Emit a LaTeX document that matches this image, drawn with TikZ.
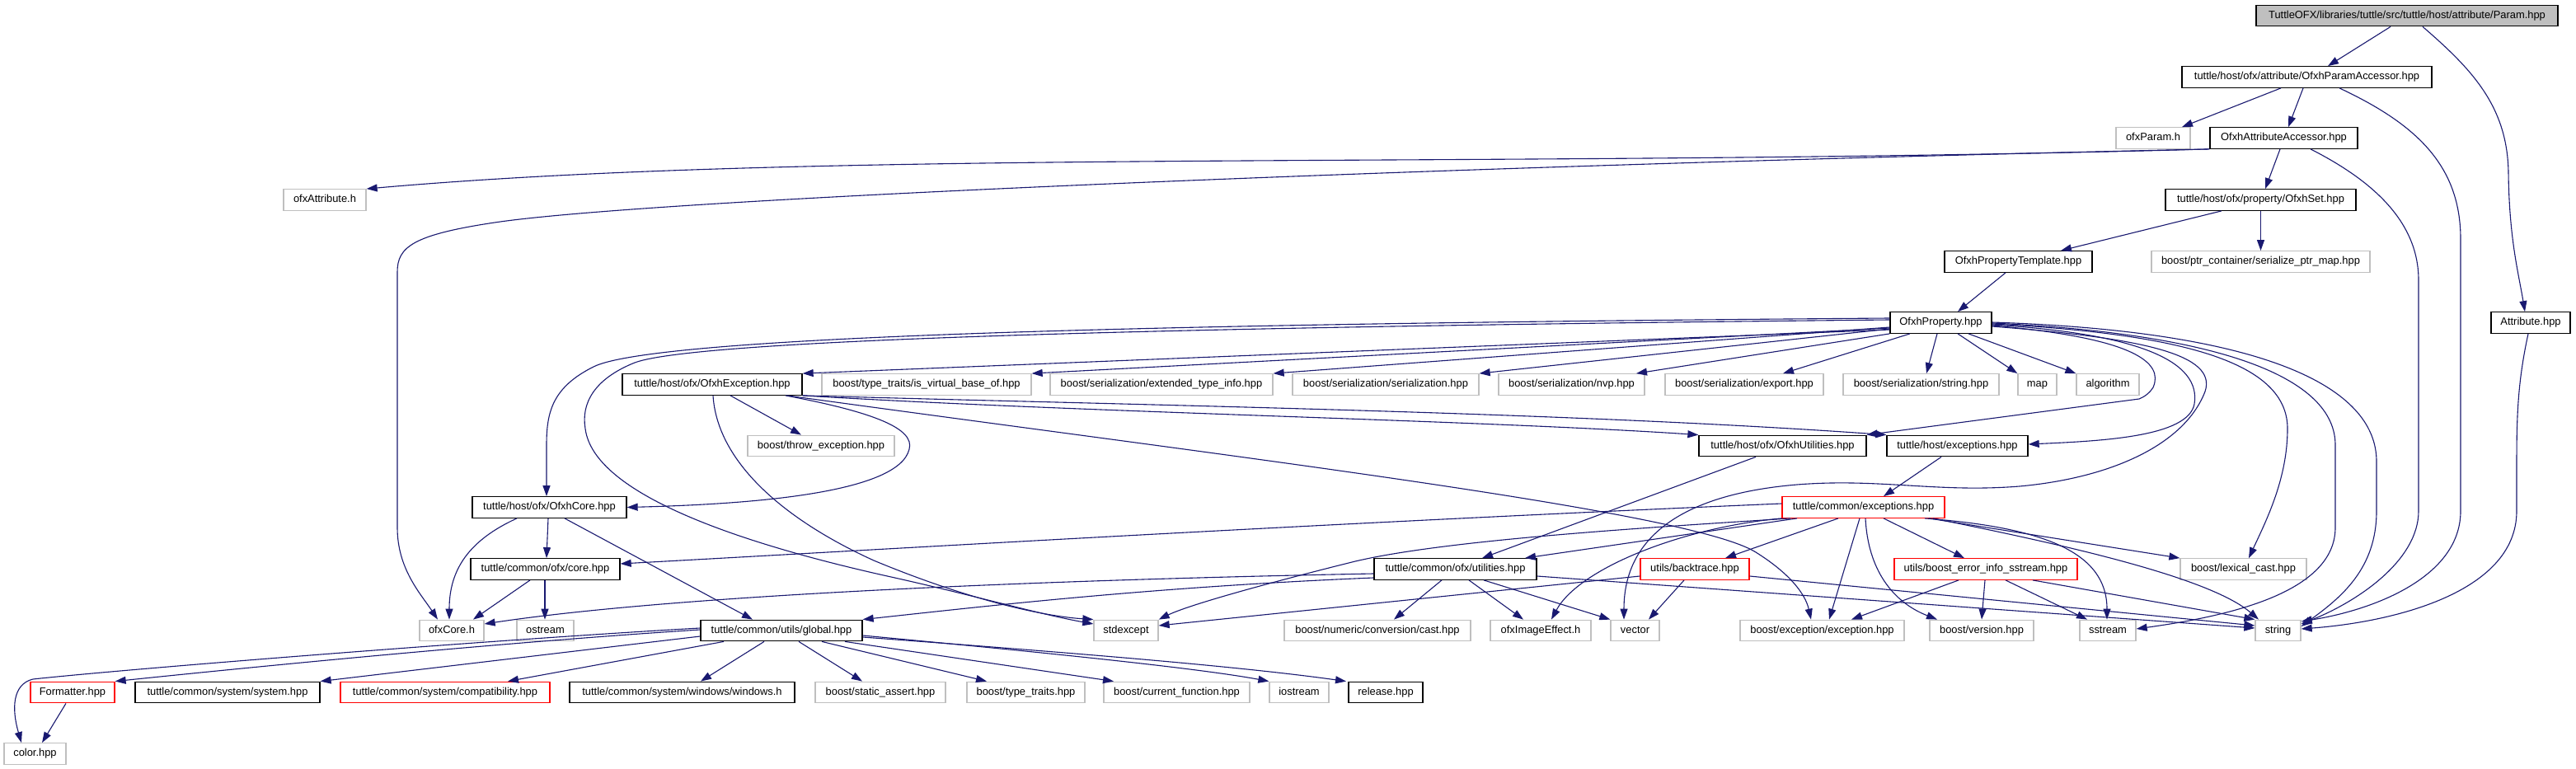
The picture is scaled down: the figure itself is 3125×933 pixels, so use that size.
\documentclass[tikz,border=0pt]{standalone}
\usepackage{fontspec}
\setmainfont{Liberation Sans}
\usetikzlibrary{arrows.meta}
\definecolor{edgec}{HTML}{191970}
\definecolor{graybd}{HTML}{BFBFBF}
\begin{document}
\begin{tikzpicture}[x=1pt,y=-1pt,
  nbase/.style={rectangle, inner sep=0pt, minimum height=25.5pt, line width=1.3pt, fill=white,
    font=\fontsize{12.9pt}{15pt}\selectfont, text height=9.3pt, text depth=2.7pt},
  nb/.style={nbase, draw=black},
  ng/.style={nbase, draw=graybd},
  nr/.style={nbase, draw=red},
  nroot/.style={nbase, draw=black, fill=graybd},
  dep/.style={draw=edgec, line width=1.1pt, -{Triangle[length=13pt,width=9pt]}}]
\useasboundingbox (0,0) rectangle (3125,933);
\fill[white] (0,0) rectangle (3125,933);

% nodes
\node[nroot, minimum width=366pt] (param) at (2920,19) {TuttleOFX/libraries/tuttle/src/tuttle/host/attribute/Param.hpp};
\node[nb, minimum width=303pt] (paramacc) at (2798.5,93.5) {tuttle/host/ofx/attribute/OfxhParamAccessor.hpp};
\node[ng, minimum width=90pt] (ofxparam) at (2612,167.5) {ofxParam.h};
\node[nb, minimum width=179pt] (attracc) at (2770.5,167.5) {OfxhAttributeAccessor.hpp};
\node[ng, minimum width=100pt] (ofxattr) at (394,242.5) {ofxAttribute.h};
\node[nb, minimum width=231pt] (ofxhset) at (2742.5,242.5) {tuttle/host/ofx/property/OfxhSet.hpp};
\node[nb, minimum width=179pt] (proptempl) at (2448.5,317.5) {OfxhPropertyTemplate.hpp};
\node[ng, minimum width=265pt] (ptrmap) at (2742.5,317.5) {boost/ptr\_container/serialize\_ptr\_map.hpp};
\node[nb, minimum width=123pt] (ofxhprop) at (2354.5,391.5) {OfxhProperty.hpp};
\node[nb, minimum width=96pt] (attrib) at (3070,391.5) {Attribute.hpp};

\node[nb, minimum width=218pt] (ofxhexc) at (864,466.5) {tuttle/host/ofx/OfxhException.hpp};
\node[ng, minimum width=254pt] (isvirt) at (1124,466.5) {boost/type\_traits/is\_virtual\_base\_of.hpp};
\node[ng, minimum width=270pt] (exttype) at (1409,466.5) {boost/serialization/extended\_type\_info.hpp};
\node[ng, minimum width=226pt] (serial) at (1681,466.5) {boost/serialization/serialization.hpp};
\node[ng, minimum width=177pt] (nvp) at (1906.5,466.5) {boost/serialization/nvp.hpp};
\node[ng, minimum width=192pt] (exportn) at (2116,466.5) {boost/serialization/export.hpp};
\node[ng, minimum width=189pt] (serstr) at (2330.5,466.5) {boost/serialization/string.hpp};
\node[ng, minimum width=47pt] (mapn) at (2471.5,466.5) {map};
\node[ng, minimum width=76pt] (algo) at (2557,466.5) {algorithm};

\node[ng, minimum width=178pt] (throwexc) at (996,541) {boost/throw\_exception.hpp};
\node[nb, minimum width=203pt] (ofxhutil) at (2162.5,541) {tuttle/host/ofx/OfxhUtilities.hpp};
\node[nb, minimum width=171pt] (hostexc) at (2374.5,541) {tuttle/host/exceptions.hpp};

\node[nb, minimum width=187pt] (ofxhcore) at (666.5,615.5) {tuttle/host/ofx/OfxhCore.hpp};
\node[nr, minimum width=197pt] (comexc) at (2260.5,615.5) {tuttle/common/exceptions.hpp};

\node[nb, minimum width=181pt] (corehpp) at (661.5,690.5) {tuttle/common/ofx/core.hpp};
\node[nb, minimum width=197pt] (utilhpp) at (1765.5,690.5) {tuttle/common/ofx/utilities.hpp};
\node[nr, minimum width=132pt] (backtr) at (2056,690.5) {utils/backtrace.hpp};
\node[nr, minimum width=222pt] (berr) at (2409,690.5) {utils/boost\_error\_info\_sstream.hpp};
\node[ng, minimum width=153pt] (lexcast) at (2721.5,690.5) {boost/lexical\_cast.hpp};

\node[ng, minimum width=78pt] (ofxcoreh) at (548,765) {ofxCore.h};
\node[ng, minimum width=69pt] (ostreamn) at (661.5,765) {ostream};
\node[nb, minimum width=196pt] (globaln) at (948,765) {tuttle/common/utils/global.hpp};
\node[ng, minimum width=78pt] (stdexc) at (1366,765) {stdexcept};
\node[ng, minimum width=226pt] (castn) at (1671,765) {boost/numeric/conversion/cast.hpp};
\node[ng, minimum width=122pt] (imgeff) at (1869,765) {ofxImageEffect.h};
\node[ng, minimum width=59pt] (vectorn) at (1983.5,765) {vector};
\node[ng, minimum width=199pt] (bexc) at (2210.5,765) {boost/exception/exception.hpp};
\node[ng, minimum width=126pt] (versionn) at (2404,765) {boost/version.hpp};
\node[ng, minimum width=68pt] (sstreamn) at (2557,765) {sstream};
\node[ng, minimum width=55pt] (stringn) at (2763.5,765) {string};

\node[nr, minimum width=102pt] (formatter) at (88,840) {Formatter.hpp};
\node[nb, minimum width=224pt] (systemn) at (276,840) {tuttle/common/system/system.hpp};
\node[nr, minimum width=254pt] (compat) at (540,840) {tuttle/common/system/compatibility.hpp};
\node[nb, minimum width=273pt] (windowsn) at (827.5,840) {tuttle/common/system/windows/windows.h};
\node[ng, minimum width=158pt] (sassert) at (1068,840) {boost/static\_assert.hpp};
\node[ng, minimum width=143pt] (ttraits) at (1244.5,840) {boost/type\_traits.hpp};
\node[ng, minimum width=177pt] (curfunc) at (1427.5,840) {boost/current\_function.hpp};
\node[ng, minimum width=72pt] (iostreamn) at (1576,840) {iostream};
\node[nb, minimum width=90pt] (release) at (1681,840) {release.hpp};

\node[ng, minimum width=75pt] (colorn) at (42.5,914.5) {color.hpp};

% edges: Param
\draw[dep] (param.south -| 2900,0) -- (paramacc.north -| 2824,0);
\draw[dep] (param.south -| 2939,0) .. controls (3000,85) and (3042,130) .. (3043,210) .. controls (3044,290) and (3055,330) .. (attrib.north -| 3063,0);
% ParamAccessor
\draw[dep] (paramacc.south -| 2767,0) -- (ofxparam.north -| 2647,0);
\draw[dep] (paramacc.south -| 2794,0) -- (attracc.north -| 2776,0);
\draw[dep] (paramacc.south -| 2838,0) .. controls (2930,150) and (2985,200) .. (2985,290) -- (2985,620) .. controls (2985,700) and (2880,740) .. (stringn.east |- 0,754);
% AttributeAccessor
\draw[dep] (attracc.south west) .. controls (1800,205) and (1000,180) .. (ofxattr.north east);
\draw[dep] (attracc.south west) .. controls (1800,200) and (800,240) .. (600,270) .. controls (500,285) and (482,300) .. (482,330) -- (482,640) .. controls (482,690) and (510,720) .. (ofxcoreh.north -| 531,0);
\draw[dep] (attracc.south -| 2766,0) -- (ofxhset.north -| 2748,0);
\draw[dep] (attracc.south -| 2803,0) .. controls (2880,220) and (2934,270) .. (2934,340) -- (2934,620) .. controls (2934,680) and (2860,730) .. (stringn.east |- 0,757);
% OfxhSet
\draw[dep] (ofxhset.south -| 2695,0) -- (proptempl.north -| 2500,0);
\draw[dep] (ofxhset.south) -- (ptrmap.north);
\draw[dep] (proptempl.south -| 2433,0) -- (ofxhprop.north -| 2375,0);
% OfxhProperty
\draw[dep] (ofxhprop.west |- 0,400) -- (ofxhexc.north east);
\draw[dep] (ofxhprop.west |- 0,398) -- (isvirt.north east);
\draw[dep] (ofxhprop.west |- 0,397) -- (exttype.north east);
\draw[dep] (ofxhprop.west |- 0,399) -- (serial.north east);
\draw[dep] (ofxhprop.south west) -- (nvp.north -| 1985,0);
\draw[dep] (ofxhprop.south -| 2317,0) -- (exportn.north -| 2163,0);
\draw[dep] (ofxhprop.south -| 2350,0) -- (serstr.north -| 2337,0);
\draw[dep] (ofxhprop.south -| 2375,0) -- (mapn.north west);
\draw[dep] (ofxhprop.south -| 2388,0) -- (algo.north west);
\draw[dep] (ofxhprop.east |- 0,395) .. controls (2590,410) and (2625,440) .. (2612,470) .. controls (2607,478) and (2600,482) .. (2595,484) -- (ofxhutil.north east);
\draw[dep] (ofxhprop.east |- 0,394) .. controls (2600,405) and (2670,440) .. (2662,490) .. controls (2655,530) and (2550,535) .. (hostexc.east |- 0,539);
\draw[dep] (ofxhprop.west |- 0,386) .. controls (1500,392) and (800,405) .. (720,445) .. controls (670,470) and (663,500) .. (663,540) -- (ofxhcore.north -| 663,0);
\draw[dep] (ofxhprop.west |- 0,388) .. controls (1500,396) and (850,410) .. (770,440) .. controls (720,460) and (705,490) .. (710,520) .. controls (720,600) and (900,660) .. (1081,700) .. controls (1180,722) and (1260,745) .. (stdexc.west |- 0,757);
\draw[dep] (ofxhprop.east |- 0,396) .. controls (2600,410) and (2690,430) .. (2675,475) .. controls (2650,540) and (2560,580) .. (2450,590) .. controls (2350,598) and (2280,580) .. (2180,588) .. controls (2060,598) and (1970,640) .. (vectorn.north -| 1970,0);
\draw[dep] (ofxhprop.east |- 0,393) .. controls (2650,405) and (2775,440) .. (2775,520) .. controls (2775,580) and (2750,630) .. (lexcast.north -| 2728,0);
\draw[dep] (ofxhprop.east |- 0,392) .. controls (2700,405) and (2833,460) .. (2833,540) -- (2833,640) .. controls (2833,720) and (2700,748) .. (sstreamn.east |- 0,763);
\draw[dep] (ofxhprop.east |- 0,391) .. controls (2750,402) and (2883,470) .. (2883,560) -- (2883,620) .. controls (2883,690) and (2840,725) .. (stringn.east |- 0,760);
% OfxhException
\draw[dep] (ofxhexc.south -| 886,0) -- (throwexc.north -| 972,0);
\draw[dep] (ofxhexc.south -| 953,0) .. controls (1060,500) and (1110,520) .. (1103,545) .. controls (1090,600) and (900,612) .. (ofxhcore.east);
\draw[dep] (ofxhexc.south -| 865,0) .. controls (870,560) and (950,630) .. (1060,680) .. controls (1180,730) and (1270,748) .. (stdexc.north west);
\draw[dep] (ofxhexc.south east) .. controls (1300,500) and (1800,510) .. (ofxhutil.north west);
\draw[dep] (ofxhexc.south east) .. controls (1400,492) and (1900,500) .. (hostexc.north west);
\draw[dep] (ofxhexc.south -| 955,0) .. controls (1500,555) and (2050,620) .. (2130,670) .. controls (2170,695) and (2190,720) .. (bexc.north -| 2197,0);
% OfxhCore
\draw[dep] (ofxhcore.south -| 627,0) .. controls (570,655) and (545,690) .. (ofxcoreh.north -| 545,0);
\draw[dep] (ofxhcore.south -| 665,0) -- (corehpp.north -| 663,0);
\draw[dep] (ofxhcore.south -| 685,0) -- (globaln.north -| 913,0);
% core.hpp
\draw[dep] (corehpp.south -| 643,0) -- (ofxcoreh.north -| 574,0);
\draw[dep] (corehpp.south -| 661,0) -- (ostreamn.north -| 661,0);
% OfxhUtilities, host exceptions
\draw[dep] (ofxhutil.south -| 2130,0) -- (utilhpp.north -| 1798,0);
\draw[dep] (hostexc.south -| 2355,0) -- (comexc.north -| 2285,0);
% utilities.hpp
\draw[dep] (utilhpp.west |- 0,696) .. controls (1200,705) and (800,725) .. (ofxcoreh.east |- 0,757);
\draw[dep] (utilhpp.west |- 0,701) .. controls (1400,712) and (1200,735) .. (globaln.north east);
\draw[dep] (utilhpp.south -| 1749,0) -- (castn.north -| 1691,0);
\draw[dep] (utilhpp.south -| 1782,0) -- (imgeff.north -| 1848,0);
\draw[dep] (utilhpp.south -| 1800,0) -- (vectorn.north west);
\draw[dep] (utilhpp.east |- 0,699) -- (stringn.west |- 0,762);
% backtrace
\draw[dep] (backtr.west |- 0,699) -- (stdexc.east |- 0,759);
\draw[dep] (backtr.south -| 2043,0) -- (vectorn.north -| 2000,0);
\draw[dep] (backtr.east |- 0,699) -- (stringn.west |- 0,759);
% boost_error_info_sstream
\draw[dep] (berr.south -| 2376,0) -- (bexc.north -| 2246,0);
\draw[dep] (berr.south -| 2408,0) -- (versionn.north -| 2404,0);
\draw[dep] (berr.south -| 2433,0) -- (sstreamn.north -| 2532,0);
\draw[dep] (berr.south -| 2466,0) -- (stringn.north west);
% common exceptions
\draw[dep] (comexc.west |- 0,611) .. controls (1600,635) and (1100,665) .. (corehpp.east |- 0,684);
\draw[dep] (comexc.south -| 2180,0) -- (utilhpp.north -| 1850,0);
\draw[dep] (comexc.south -| 2172,0) .. controls (2000,640) and (1750,655) .. (1640,682) .. controls (1520,712) and (1440,735) .. (stdexc.north east);
\draw[dep] (comexc.south west) .. controls (2040,640) and (1915,690) .. (imgeff.north -| 1882,0);
\draw[dep] (comexc.south -| 2230,0) -- (backtr.north -| 2093,0);
\draw[dep] (comexc.south -| 2256,0) -- (bexc.north -| 2219,0);
\draw[dep] (comexc.south -| 2263,0) .. controls (2266,690) and (2295,730) .. (versionn.north -| 2350,0);
\draw[dep] (comexc.south -| 2285,0) -- (berr.north -| 2383,0);
\draw[dep] (comexc.south -| 2335,0) .. controls (2480,640) and (2556,670) .. (sstreamn.north -| 2556,0);
\draw[dep] (comexc.south -| 2345,0) .. controls (2500,660) and (2680,700) .. (stringn.north -| 2740,0);
\draw[dep] (comexc.south -| 2340,0) -- (lexcast.north west);
% global.hpp
\draw[dep] (globaln.west |- 0,764) .. controls (600,780) and (300,810) .. (formatter.north east);
\draw[dep] (globaln.west |- 0,762) .. controls (600,776) and (150,812) .. (40,824) .. controls (15,830) and (14,860) .. (colorn.north -| 26,0);
\draw[dep] (globaln.west |- 0,772) -- (systemn.north east);
\draw[dep] (globaln.south -| 878,0) -- (compat.north -| 616,0);
\draw[dep] (globaln.south -| 927,0) -- (windowsn.north -| 850,0);
\draw[dep] (globaln.south -| 969,0) -- (sassert.north -| 1046,0);
\draw[dep] (globaln.south -| 997,0) -- (ttraits.north -| 1197,0);
\draw[dep] (globaln.south -| 1025,0) -- (curfunc.north -| 1351,0);
\draw[dep] (globaln.east |- 0,771) .. controls (1250,790) and (1450,810) .. (iostreamn.north west);
\draw[dep] (globaln.east |- 0,773) .. controls (1300,792) and (1500,808) .. (release.north -| 1633,0);
% Formatter, Attribute
\draw[dep] (formatter.south -| 80,0) -- (colorn.north -| 51,0);
\draw[dep] (attrib.south -| 3067,0) .. controls (3055,460) and (3053,500) .. (3053,560) -- (3053,620) .. controls (3053,720) and (2900,755) .. (stringn.east |- 0,763);
\end{tikzpicture}
\end{document}
